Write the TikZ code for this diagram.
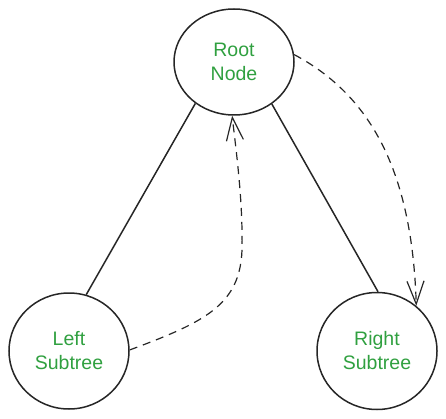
\documentclass[tikz,border=0pt]{standalone}
\usepackage{fontspec}
\setmainfont{Liberation Sans}
\usetikzlibrary{shapes.geometric,arrows.meta}
\definecolor{lblgreen}{RGB}{48,160,64}
\tikzset{
  treenode/.style={ellipse, draw=black!85, line width=1.5pt, inner sep=0pt,
    text=lblgreen, align=center, font=\fontsize{19.5}{24}\selectfont},
  edgeline/.style={draw=black!85, line width=1.5pt},
  flow/.style={draw=black!85, line width=1.2pt, dash pattern=on 8pt off 6pt,
    -{Straight Barb[length=23pt,width=17pt,line width=1.2pt]}}
}
\begin{document}
\begin{tikzpicture}[x=1pt,y=-1pt]
\useasboundingbox (0,0) rectangle (446,419);
\node[treenode, minimum width=120pt, minimum height=106pt] (root) at (234,62) {Root\\Node};
\node[treenode, minimum width=120pt, minimum height=116pt] (left) at (69,351) {Left\\Subtree};
\node[treenode, minimum width=120pt, minimum height=117pt] (right) at (377,351) {Right\\Subtree};
\draw[edgeline] (root.227) -- (left.73);
\draw[edgeline] (root.312) -- (right.89);
\draw[flow] (left.1) .. controls (205,322) and (240,305) .. (242,250)
  .. controls (243,200) and (236,150) .. (root.268);
\draw[flow] (root.7) .. controls (370,95) and (412,170) .. (right.49);
\end{tikzpicture}
\end{document}
